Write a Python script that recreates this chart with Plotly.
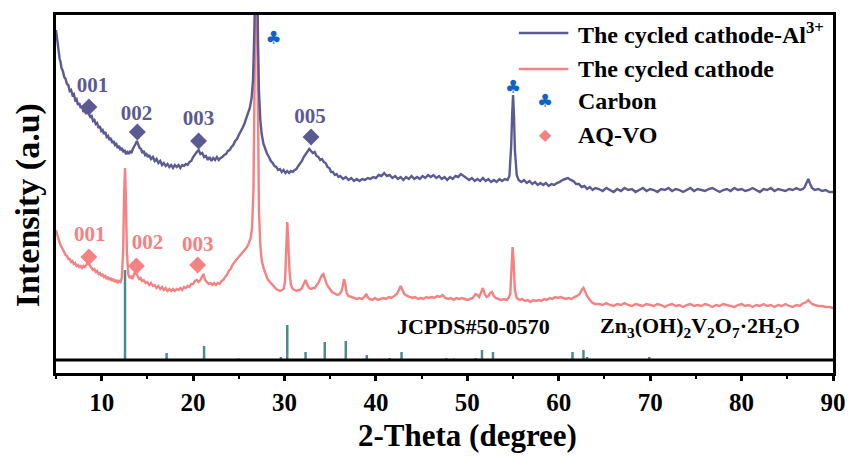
import plotly.graph_objects as go

# ---------------- data ----------------
# (2-theta in degree, intensity in a.u.) of the cycled cathode with Al3+
pattern_al = [
    (5.0, 330), (5.1, 322), (5.2, 313), (5.3, 309), (5.4, 301), (5.5, 298), (5.6, 292), (5.75, 289),
    (5.9, 283), (6.05, 281), (6.2, 276), (6.35, 275), (6.5, 269), (6.65, 270), (6.8, 265), (6.95, 266),
    (7.1, 260), (7.25, 261), (7.4, 255), (7.55, 257), (7.7, 252), (7.85, 254), (8.0, 248), (8.15, 250),
    (8.3, 246), (8.45, 249), (8.6, 245), (8.75, 243), (8.9, 244), (9.05, 239), (9.2, 240), (9.35, 236),
    (9.5, 237), (9.65, 232), (9.8, 234), (9.95, 229), (10.1, 230), (10.25, 226), (10.4, 228),
    (10.55, 223), (10.7, 224), (10.85, 220), (11.0, 222), (11.15, 217), (11.3, 219), (11.45, 215),
    (11.6, 216), (11.75, 212), (11.9, 214), (12.05, 210), (12.2, 212), (12.35, 208), (12.5, 210),
    (12.65, 206), (12.8, 208), (12.95, 206), (13.1, 209), (13.25, 207), (13.4, 211), (13.55, 213),
    (13.7, 216), (13.85, 219), (14.0, 216), (14.15, 212), (14.3, 211), (14.45, 207), (14.6, 209),
    (14.75, 205), (14.9, 206), (15.05, 203), (15.2, 205), (15.4, 201), (15.6, 203), (15.8, 199),
    (16.0, 201), (16.2, 197), (16.4, 199), (16.6, 195), (16.8, 197), (17.0, 194), (17.2, 196),
    (17.4, 193), (17.6, 195), (17.8, 192), (18.0, 195), (18.2, 193), (18.4, 195), (18.6, 192),
    (18.8, 195), (19.0, 194), (19.2, 196), (19.4, 195), (19.6, 198), (19.8, 199), (20.0, 203),
    (20.2, 206), (20.4, 208), (20.6, 210), (20.8, 206), (21.0, 207), (21.2, 203), (21.4, 204),
    (21.6, 200), (21.8, 203), (22.0, 199), (22.2, 202), (22.4, 200), (22.6, 203), (22.8, 200),
    (23.0, 202), (23.2, 203), (23.4, 205), (23.6, 206), (23.8, 209), (24.0, 210), (24.2, 213),
    (24.4, 215), (24.6, 219), (24.8, 221), (25.0, 225), (25.2, 228), (25.4, 232), (25.6, 236),
    (25.8, 241), (26.0, 246), (26.2, 252), (26.4, 262), (26.55, 280), (26.7, 330), (26.8, 400),
    (26.9, 430), (27.0, 400), (27.1, 320), (27.2, 270), (27.35, 240), (27.5, 226), (27.7, 216),
    (27.9, 210), (28.1, 206), (28.3, 203), (28.5, 199), (28.7, 197), (28.9, 194), (29.1, 193),
    (29.3, 190), (29.5, 191), (29.7, 188), (29.9, 190), (30.1, 187), (30.3, 189), (30.5, 187),
    (30.7, 189), (30.9, 188), (31.1, 190), (31.3, 191), (31.5, 194), (31.7, 196), (31.9, 199),
    (32.1, 203), (32.3, 206), (32.5, 209), (32.7, 211), (32.9, 209), (33.1, 207), (33.3, 208),
    (33.5, 204), (33.7, 203), (33.9, 200), (34.1, 201), (34.3, 198), (34.5, 197), (34.7, 193),
    (34.9, 192), (35.1, 188), (35.3, 188), (35.5, 185), (35.7, 186), (35.9, 183), (36.1, 184),
    (36.4, 181), (36.7, 183), (37.0, 180), (37.3, 182), (37.6, 179), (37.9, 181), (38.2, 179),
    (38.5, 181), (38.8, 180), (39.1, 182), (39.4, 181), (39.7, 183), (40.0, 182), (40.3, 185),
    (40.6, 184), (40.9, 187), (41.2, 184), (41.5, 185), (41.8, 182), (42.1, 184), (42.4, 181),
    (42.7, 183), (43.0, 180), (43.3, 183), (43.6, 181), (43.9, 184), (44.2, 181), (44.5, 183),
    (44.8, 181), (45.1, 184), (45.4, 182), (45.7, 185), (46.0, 183), (46.3, 185), (46.6, 182),
    (46.9, 184), (47.2, 181), (47.5, 183), (47.8, 180), (48.1, 183), (48.4, 181), (48.7, 184),
    (49.0, 183), (49.3, 186), (49.6, 184), (49.9, 182), (50.2, 180), (50.5, 182), (50.8, 179),
    (51.1, 181), (51.4, 179), (51.7, 182), (52.0, 179), (52.3, 181), (52.6, 178), (52.9, 180),
    (53.2, 178), (53.5, 181), (53.8, 179), (54.1, 181), (54.4, 180), (54.6, 184), (54.8, 215),
    (54.9, 245), (55.0, 265), (55.1, 245), (55.2, 210), (55.4, 185), (55.6, 180), (55.9, 178),
    (56.2, 180), (56.5, 177), (56.8, 179), (57.1, 176), (57.4, 178), (57.7, 175), (58.0, 177),
    (58.3, 175), (58.6, 177), (58.9, 174), (59.2, 176), (59.5, 175), (59.8, 177), (60.1, 178),
    (60.4, 180), (60.7, 181), (61.0, 182), (61.3, 180), (61.6, 179), (61.9, 176), (62.2, 176),
    (62.5, 173), (62.8, 174), (63.1, 171), (63.4, 173), (63.7, 170), (64.0, 172),
    (64.4, 171), (64.8, 169), (65.2, 172), (65.6, 170), (66.0, 168), (66.4, 171), (66.8, 169),
    (67.2, 172), (67.6, 170), (68.0, 171), (68.4, 168), (68.8, 170), (69.2, 172), (69.6, 169),
    (70.0, 171), (70.4, 170), (70.8, 168), (71.2, 171), (71.6, 170), (72.0, 172), (72.4, 169),
    (72.8, 171), (73.2, 170), (73.6, 168), (74.0, 170), (74.4, 172), (74.8, 169), (75.2, 171),
    (75.6, 170), (76.0, 169), (76.4, 171), (76.8, 172), (77.2, 170), (77.6, 168), (78.0, 170),
    (78.4, 171), (78.8, 169), (79.2, 172), (79.6, 170), (80.0, 171), (80.4, 169), (80.8, 170),
    (81.2, 172), (81.6, 170), (82.0, 168), (82.4, 171), (82.8, 170), (83.2, 172), (83.6, 169),
    (84.0, 171), (84.4, 170), (84.8, 169), (85.2, 171), (85.6, 170), (86.0, 172), (86.4, 170),
    (86.7, 171), (86.9, 173), (87.1, 177), (87.3, 181), (87.5, 176), (87.7, 172), (88.0, 170),
    (88.4, 171), (88.8, 169), (89.2, 170), (89.6, 168), (90.0, 168),
]

# (2-theta in degree, intensity in a.u.) of the cycled cathode
pattern_cc = [
    (5.0, 130), (5.1, 126), (5.2, 122), (5.3, 120), (5.45, 116), (5.6, 113), (5.75, 110), (5.9, 108),
    (6.05, 105), (6.2, 104), (6.35, 101), (6.5, 101), (6.65, 98), (6.8, 99), (6.95, 96), (7.1, 97),
    (7.25, 94), (7.4, 95), (7.55, 93), (7.7, 94), (7.85, 92), (8.0, 94), (8.15, 93), (8.3, 95),
    (8.45, 97), (8.6, 96), (8.75, 94), (8.9, 93), (9.05, 90), (9.2, 91), (9.35, 88), (9.5, 89),
    (9.65, 86), (9.8, 87), (9.95, 84), (10.1, 86), (10.25, 83), (10.4, 84), (10.55, 81), (10.7, 83),
    (10.85, 80), (11.0, 82), (11.15, 79), (11.3, 81), (11.45, 78), (11.6, 80), (11.75, 77),
    (11.9, 79), (12.05, 78), (12.2, 82), (12.35, 110), (12.45, 165), (12.55, 192), (12.65, 160),
    (12.75, 110), (12.9, 86), (13.05, 82), (13.2, 84), (13.35, 81), (13.5, 85), (13.65, 88),
    (13.8, 86), (13.95, 84), (14.1, 81), (14.25, 82), (14.4, 79), (14.6, 80), (14.8, 77),
    (15.0, 78), (15.2, 75), (15.4, 77), (15.6, 74), (15.8, 75), (16.0, 72), (16.2, 74), (16.4, 71),
    (16.6, 73), (16.8, 70), (17.0, 72), (17.2, 69), (17.4, 71), (17.6, 69), (17.8, 71), (18.0, 69),
    (18.2, 71), (18.4, 70), (18.6, 72), (18.8, 70), (19.0, 73), (19.2, 72), (19.4, 74), (19.6, 73),
    (19.8, 76), (20.0, 76), (20.2, 79), (20.4, 80), (20.6, 78), (20.8, 80), (21.0, 84), (21.15, 86),
    (21.3, 80), (21.5, 78), (21.7, 76), (21.9, 77), (22.1, 75), (22.3, 77), (22.5, 75), (22.7, 77),
    (22.9, 76), (23.1, 79), (23.3, 80), (23.5, 83), (23.7, 85), (23.9, 89), (24.1, 91), (24.3, 95),
    (24.5, 98), (24.7, 100), (24.9, 102), (25.1, 104), (25.3, 106), (25.5, 108), (25.7, 111),
    (25.9, 113), (26.1, 117), (26.3, 122), (26.45, 132), (26.6, 170), (26.75, 300), (26.9, 430),
    (27.05, 300), (27.2, 150), (27.35, 115), (27.5, 100), (27.7, 92), (27.9, 86), (28.1, 82),
    (28.3, 79), (28.5, 77), (28.7, 74), (28.9, 73), (29.1, 71), (29.3, 70), (29.5, 69), (29.7, 70),
    (29.9, 71), (30.05, 78), (30.2, 110), (30.3, 138), (30.4, 120), (30.55, 88), (30.7, 75),
    (30.9, 71), (31.1, 70), (31.3, 69), (31.5, 70), (31.7, 70), (31.9, 72), (32.1, 76), (32.3, 80),
    (32.5, 75), (32.7, 72), (32.9, 71), (33.1, 72), (33.3, 72), (33.5, 74), (33.7, 77), (33.9, 81),
    (34.1, 85), (34.25, 86), (34.4, 81), (34.6, 76), (34.8, 73), (35.0, 70), (35.2, 68), (35.4, 67),
    (35.6, 66), (35.8, 65), (36.0, 66), (36.2, 68), (36.35, 73), (36.5, 81), (36.65, 76),
    (36.8, 67), (37.0, 64), (37.3, 63), (37.6, 62), (37.9, 61), (38.2, 62), (38.5, 61), (38.8, 64),
    (38.95, 66), (39.1, 63), (39.3, 61), (39.6, 60), (39.9, 62), (40.2, 60), (40.5, 61), (40.8, 62),
    (41.1, 61), (41.4, 63), (41.7, 62), (42.0, 64), (42.3, 66), (42.5, 70), (42.7, 74), (42.9, 70),
    (43.1, 66), (43.4, 64), (43.7, 63), (44.0, 62), (44.3, 63), (44.6, 61), (44.9, 62), (45.2, 61),
    (45.5, 63), (45.8, 62), (46.1, 63), (46.4, 62), (46.7, 64), (47.0, 63), (47.3, 65), (47.6, 62),
    (47.9, 61), (48.2, 62), (48.5, 60), (48.8, 62), (49.1, 61), (49.4, 62), (49.7, 61), (50.0, 60),
    (50.3, 61), (50.6, 62), (50.9, 66), (51.1, 65), (51.3, 63), (51.5, 67), (51.7, 72), (51.9, 66),
    (52.1, 63), (52.3, 64), (52.5, 67), (52.7, 68), (52.9, 64), (53.1, 62), (53.4, 61), (53.7, 60),
    (54.0, 61), (54.3, 60), (54.5, 62), (54.7, 66), (54.85, 95), (54.95, 113), (55.05, 100),
    (55.2, 70), (55.4, 62), (55.7, 60), (56.0, 61), (56.3, 59), (56.6, 60), (56.9, 58), (57.2, 60),
    (57.5, 59), (57.8, 60), (58.1, 59), (58.4, 61), (58.7, 60), (59.0, 62), (59.3, 61), (59.6, 63),
    (59.9, 62), (60.2, 63), (60.5, 62), (60.8, 61), (61.1, 62), (61.4, 61), (61.7, 63), (62.0, 64),
    (62.3, 66), (62.5, 70), (62.7, 72), (62.9, 68), (63.1, 64), (63.4, 60), (63.7, 57), (64.0, 56),
    (64.4, 56), (64.8, 55), (65.2, 57), (65.6, 55), (66.0, 54), (66.4, 56), (66.8, 55), (67.2, 57),
    (67.6, 55), (68.0, 54), (68.4, 56), (68.8, 55), (69.2, 54), (69.6, 56), (70.0, 55), (70.4, 54),
    (70.8, 56), (71.2, 55), (71.6, 53), (72.0, 55), (72.4, 56), (72.8, 54), (73.2, 55), (73.6, 53),
    (74.0, 55), (74.4, 56), (74.8, 54), (75.2, 55), (75.6, 54), (76.0, 56), (76.4, 55), (76.8, 53),
    (77.2, 55), (77.6, 54), (78.0, 56), (78.4, 55), (78.8, 54), (79.2, 53), (79.6, 55), (80.0, 56),
    (80.4, 54), (80.8, 55), (81.2, 53), (81.6, 55), (82.0, 54), (82.4, 56), (82.8, 54), (83.2, 55),
    (83.6, 53), (84.0, 55), (84.4, 54), (84.8, 56), (85.2, 54), (85.6, 53), (86.0, 55), (86.4, 54),
    (86.6, 56), (86.9, 57), (87.1, 58), (87.3, 60), (87.5, 58), (87.7, 56), (88.0, 55), (88.4, 54),
    (88.8, 54), (89.2, 53), (89.6, 53), (90.0, 52),
]
two_theta_al, intensity_al = [list(v) for v in zip(*pattern_al)]
two_theta_cc, intensity_cc = [list(v) for v in zip(*pattern_cc)]

# standard pattern JCPDS#50-0570, Zn3(OH)2V2O7·2H2O
ref_two_theta = [12.55, 17.1, 21.2, 25.0, 29.6, 30.3, 32.3, 34.4, 36.7, 39.0, 41.5, 42.8,
                 47.7, 48.5, 50.9, 51.6, 52.8, 54.1, 58.9, 61.5, 62.7, 63.1, 69.9, 72.2,
                 83.5, 85.2]
ref_intensity = [90, 7, 14, 1.5, 3, 35, 8, 18, 19, 5, 2, 8,
                 2, 1.5, 2, 10, 8, 1, 1, 8, 10, 3, 3, 1,
                 1, 1]

# indexed AQ-VO reflections
hkl_labels = ["001", "002", "003", "005"]
hkl_theta_al = [8.6, 13.9, 20.6, 32.9]
hkl_marker_al = [253, 228, 219, 223]
hkl_text_theta_al = [9.0, 13.8, 20.6, 32.8]
hkl_text_al = [273, 245, 240, 242]

hkl_labels_cc = ["001", "002", "003"]
hkl_theta_cc = [8.6, 13.8, 20.5]
hkl_marker_cc = [103, 94, 95]
hkl_text_theta_cc = [8.7, 15.0, 20.5]
hkl_text_cc = [124, 116, 114]

# carbon reflections
carbon_theta = [28.8, 55.0]
carbon_mark = [321, 272]

x_ticks = [10, 20, 30, 40, 50, 60, 70, 80, 90]
x_minor = [5, 15, 25, 35, 45, 55, 65, 75, 85]

# ---------------- styles ----------------
NAVY = "#5C5A93"
PINK = "#F58282"
TEAL = "#4E8C8C"
BLUE = "#0D63C6"
SERIF = "Liberation Serif"

fig = go.Figure()

# stick pattern
stick_x, stick_y = [], []
for t, h in zip(ref_two_theta, ref_intensity):
    stick_x += [t, t, None]
    stick_y += [0, h, None]
fig.add_trace(go.Scatter(x=stick_x, y=stick_y, mode="lines",
                         line=dict(color=TEAL, width=2.5), showlegend=False, hoverinfo="skip"))

fig.add_trace(go.Scatter(x=two_theta_cc, y=intensity_cc, mode="lines",
                         line=dict(color=PINK, width=2.4), showlegend=False))
fig.add_trace(go.Scatter(x=two_theta_al, y=intensity_al, mode="lines",
                         line=dict(color=NAVY, width=2.4), showlegend=False))

# reflection markers and labels
fig.add_trace(go.Scatter(x=hkl_theta_al, y=hkl_marker_al, mode="markers",
                         marker=dict(symbol="diamond", size=13, color=NAVY), showlegend=False))
fig.add_trace(go.Scatter(x=hkl_text_theta_al, y=hkl_text_al, mode="text", text=hkl_labels,
                         textfont=dict(family=SERIF, size=21, color=NAVY, weight="bold"),
                         showlegend=False))
fig.add_trace(go.Scatter(x=hkl_theta_cc, y=hkl_marker_cc, mode="markers",
                         marker=dict(symbol="diamond", size=13, color=PINK), showlegend=False))
fig.add_trace(go.Scatter(x=hkl_text_theta_cc, y=hkl_text_cc, mode="text", text=hkl_labels_cc,
                         textfont=dict(family=SERIF, size=21, color=PINK, weight="bold"),
                         showlegend=False))
fig.add_trace(go.Scatter(x=carbon_theta, y=carbon_mark, mode="text", text=["♣"] * len(carbon_theta),
                         textfont=dict(family="DejaVu Sans", size=18, color=BLUE),
                         showlegend=False))

# ---------------- layout ----------------
fig.update_layout(
    width=858, height=456,
    margin=dict(l=56, r=18, t=15, b=83),
    paper_bgcolor="white", plot_bgcolor="white",
    xaxis=dict(range=[5, 90], showline=True, linecolor="black", linewidth=3, mirror=True,
               showgrid=False, zeroline=False,
               ticks="outside", ticklen=5, tickwidth=2.5, tickcolor="black", tickvals=x_ticks,
               minor=dict(ticks="outside", ticklen=3, tickwidth=2, tickcolor="black",
                          tickvals=x_minor),
               tickfont=dict(family=SERIF, size=25, color="black", weight="bold")),
    yaxis=dict(range=[-13, 345], showline=True, linecolor="black", linewidth=3, mirror=True,
               showgrid=False, zeroline=False, showticklabels=False, ticks=""),
)

# baseline of the stick pattern, across the full frame
fig.add_shape(type="line", xref="paper", x0=0, x1=1, yref="y", y0=0, y1=0,
              line=dict(color="black", width=3))

ann = []
# axis titles
ann.append(dict(text="2-Theta (degree)", xref="paper", yref="paper", x=0.529, y=-0.174,
                xanchor="center", yanchor="middle", showarrow=False, borderpad=0,
                font=dict(family=SERIF, size=31, color="black", weight="bold")))
ann.append(dict(text="Intensity (a.u)", xref="paper", yref="paper", x=-0.036, y=0.469,
                xanchor="center", yanchor="middle", textangle=-90, showarrow=False,
                font=dict(family=SERIF, size=34, color="black", weight="bold")))
# reference pattern captions
ann.append(dict(text="JCPDS#50-0570", xref="paper", yref="paper", x=0.436, y=0.1285,
                xanchor="left", yanchor="middle", showarrow=False,
                font=dict(family=SERIF, size=22, color="black", weight="bold")))
ann.append(dict(text="Zn<sub>3</sub>(OH)<sub>2</sub>V<sub>2</sub>O<sub>7</sub>·2H<sub>2</sub>O",
                xref="paper", yref="paper", x=0.698, y=0.1285, xanchor="left", yanchor="middle",
                showarrow=False, font=dict(family=SERIF, size=22, color="black", weight="bold")))

# legend
leg_text_x = 0.6696
leg_rows = [0.9497, 0.8492, 0.760, 0.665]
leg_labels = ["The cycled cathode-Al<sup>3+</sup>", "The cycled cathode", "Carbon", "AQ-VO"]
for yy, lab in zip(leg_rows, leg_labels):
    ann.append(dict(text=lab, xref="paper", yref="paper", x=leg_text_x, y=yy, xanchor="left",
                    yanchor="middle", showarrow=False,
                    font=dict(family=SERIF, size=24, color="black", weight="bold")))
ann.append(dict(text="♣", xref="paper", yref="paper", x=0.6288, y=leg_rows[2], xanchor="center",
                yanchor="middle", showarrow=False,
                font=dict(family="DejaVu Sans", size=18, color=BLUE)))
ann.append(dict(text="◆", xref="paper", yref="paper", x=0.630, y=leg_rows[3], xanchor="center",
                yanchor="middle", showarrow=False,
                font=dict(family="DejaVu Sans", size=16, color=PINK)))
fig.update_layout(annotations=ann)

for yy, col in zip(leg_rows[:2], [NAVY, PINK]):
    fig.add_shape(type="line", xref="paper", yref="paper", x0=0.5957, x1=0.6594,
                  y0=yy, y1=yy, line=dict(color=col, width=2.4))

fig.write_html("out.html")
